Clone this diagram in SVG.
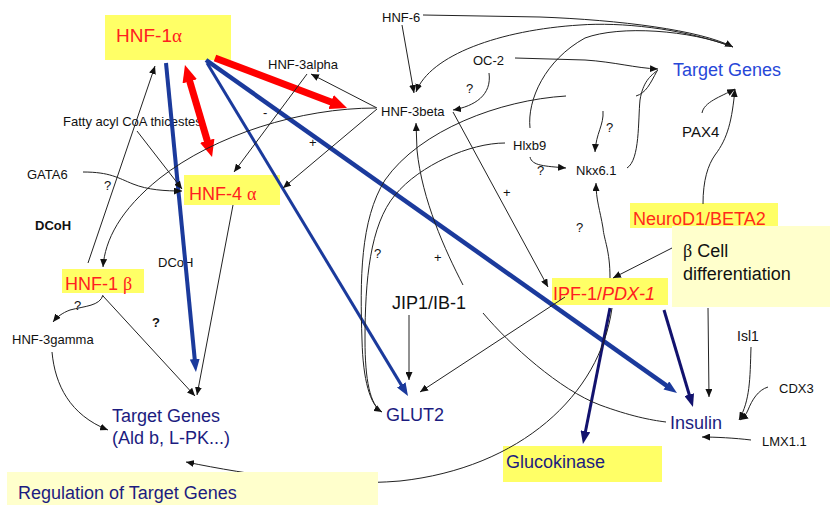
<svg xmlns="http://www.w3.org/2000/svg" width="830" height="505" viewBox="0 0 830 505">
<style>
text{font-family:"Liberation Sans",Arial,sans-serif;fill:#111}
.s{font-size:13px}
.b{font-size:18px}
.red{fill:#ff2020}
.navy{fill:#1c1c80}
.blu{fill:#2747d8}
.gr{font-family:"Liberation Serif","Times New Roman",serif}
.y{fill:#ffff66}
.ly{fill:#ffffcc}
.t{fill:none;stroke:#222;stroke-width:1}
.tb{fill:none;stroke:#1b3a9c;stroke-width:4}
.tn{fill:none;stroke:#12126e;stroke-width:3}
.tr{fill:none;stroke:#ff0000;stroke-width:7}
</style>
<defs>
<marker id="ah" markerUnits="userSpaceOnUse" markerWidth="9" markerHeight="7" refX="8" refY="3.5" orient="auto"><path d="M0,0 L8,3.5 L0,7z" fill="#111"/></marker>
<marker id="ahB" markerUnits="userSpaceOnUse" markerWidth="13" markerHeight="10" refX="2" refY="5" orient="auto"><path d="M0,0 L13,5 L0,10z" fill="#1b3a9c"/></marker>
<marker id="ahN" markerUnits="userSpaceOnUse" markerWidth="13" markerHeight="10" refX="2" refY="5" orient="auto"><path d="M0,0 L13,5 L0,10z" fill="#12126e"/></marker>
<marker id="ahR" markerUnits="userSpaceOnUse" markerWidth="17" markerHeight="15" refX="2" refY="7.5" orient="auto-start-reverse"><path d="M0,0 L17,7.5 L0,15z" fill="#ff0000"/></marker>
</defs>

<g id="hnf1a"><rect class="y" x="105" y="15" width="126" height="45"/><text class="b red" x="116" y="42" style="font-size:19px">HNF-1<tspan class="gr">α</tspan></text></g>
<g id="hnf4a"><rect class="y" x="184" y="175" width="96" height="30"/><text class="b red" x="189" y="200">HNF-4 <tspan class="gr">α</tspan></text></g>
<g id="hnf1b"><rect class="y" x="62" y="269" width="82" height="24"/><text class="b red" x="65" y="290">HNF-1 <tspan class="gr">β</tspan></text></g>
<g id="hnf3alpha"><text class="s" x="268" y="69">HNF-3alpha</text></g>
<g id="hnf3beta"><text class="s" x="381" y="116">HNF-3beta</text></g>
<g id="hnf6"><text class="s" x="382" y="22">HNF-6</text></g>
<g id="oc2"><text class="s" x="473" y="65">OC-2</text></g>
<g id="targetTop"><text class="b blu" x="673" y="76">Target Genes</text></g>
<g id="pax4"><text x="682" y="137" style="font-size:15px">PAX4</text></g>
<g id="hlxb9"><text class="s" x="513" y="150">Hlxb9</text></g>
<g id="nkx61"><text class="s" x="576" y="175">Nkx6.1</text></g>
<g id="fatty"><text class="s" x="63" y="126">Fatty acyl CoA thicestes</text></g>
<g id="gata6"><text class="s" x="27" y="179">GATA6</text></g>
<g id="dcoh1"><text class="s" x="35" y="230" font-weight="bold">DCoH</text></g>
<g id="dcoh2"><text class="s" x="158" y="267">DCoH</text></g>
<g id="hnf3gamma"><text class="s" x="12" y="344">HNF-3gamma</text></g>
<g id="targetLeft"><text class="b navy" x="112" y="422">Target Genes</text><text class="b navy" x="112" y="444">(Ald b, L-PK...)</text></g>
<g id="glut2"><text class="b navy" x="386" y="421">GLUT2</text></g>
<g id="jip1"><text class="b" x="392" y="309">JIP1/IB-1</text></g>
<g id="ipf1"><rect class="y" x="552" y="278" width="116" height="27"/><text class="b red" x="553" y="300">IPF-1/<tspan font-style="italic">PDX-1</tspan></text></g>
<g id="neurod1"><rect class="y" x="630" y="203" width="148" height="25"/><text class="b" x="633" y="225" style="fill:#ff2a1a">NeuroD1/BETA2</text></g>
<g id="isl1"><text x="737" y="341" style="font-size:14px">Isl1</text></g>
<g id="cdx3"><text class="s" x="779" y="393">CDX3</text></g>
<g id="lmx11"><text class="s" x="762" y="446">LMX1.1</text></g>
<g id="insulin"><text class="b navy" x="670" y="429">Insulin</text></g>
<g id="glucokinase"><rect class="y" x="503" y="446" width="159" height="36"/><text class="b navy" x="506" y="468">Glucokinase</text></g>

<g id="connectors">
<path class="tb" d="M166,63 L194.9,361" marker-end="url(#ahB)"/>
<path class="tb" style="stroke-width:3" d="M207,63 L402.3,386.6" marker-end="url(#ahB)"/>
<path class="tb" style="stroke-width:4.5" d="M206,60 L668,386.6" marker-end="url(#ahB)"/>
<path class="tn" d="M664,310 L689.8,396.5" marker-end="url(#ahN)"/>
<path class="tn" d="M610,308 L585.1,433.2" marker-end="url(#ahN)"/>
<path class="tr" d="M215,58 L333,102.7" marker-end="url(#ahR)"/>
<path class="tr" d="M189.2,79.4 L207.8,142.6" marker-start="url(#ahR)" marker-end="url(#ahR)"/>

<path class="t" d="M88,263 L155,66" marker-end="url(#ah)"/>
<path class="t" d="M137,131 L182,189" marker-end="url(#ah)"/>
<path class="t" d="M83,172 C110,172 118,178 133,184 C148,190 165,191 182,191" marker-end="url(#ah)"/>
<path class="t" d="M376,108 C300,108 215,135 160,178 C120,210 105,240 103,267" marker-end="url(#ah)"/>
<path class="t" d="M377,108 L311,74" marker-end="url(#ah)"/>
<path class="t" d="M377,109 L283,188" marker-end="url(#ah)"/>
<path class="t" d="M307,74 L234,172" marker-end="url(#ah)"/>
<path class="t" d="M233,205 L197,395" marker-end="url(#ah)"/>
<path class="t" d="M103,296 L195,396" marker-end="url(#ah)"/>
<path class="t" d="M103,295 C100,306 85,306 70,310 C62,313 57,317 53,322" marker-end="url(#ah)"/>
<path class="t" d="M52,352 C55,385 70,415 108,430" marker-end="url(#ah)"/>
<path class="t" d="M612,308 C600,395 520,468 400,481 C330,487 250,475 186,462" marker-end="url(#ah)"/>
<path class="t" d="M409,315 L409,380" marker-end="url(#ah)"/>
<path class="t" d="M565,297 L420,392" marker-end="url(#ah)"/>
<path class="t" d="M463,285 C445,250 422,200 417,150 L416,123" marker-end="url(#ah)"/>
<path class="t" d="M566,96 C500,100 420,130 385,180 C360,220 360,280 362,340 C363,380 370,405 382,412" marker-end="url(#ah)"/>
<path class="t" d="M505,143 C470,143 420,165 395,195 C370,225 365,280 365,340 C365,380 370,405 382,412"/>
<path class="t" d="M402,25 L414,93" marker-end="url(#ah)"/>
<path class="t" d="M423,15 L540,17 C620,20 700,30 733,47" marker-end="url(#ah)"/>
<path class="t" d="M730,46 C680,28 620,22 580,25 C500,30 430,55 416,92" marker-end="url(#ah)"/>
<path class="t" d="M530,128 C527,100 545,60 585,38 C620,25 690,30 733,47"/>
<path class="t" d="M515,58 L585,60 C615,62 635,68 658,69" marker-end="url(#ah)"/>
<path class="t" d="M489,73 C492,95 475,106 453,110" marker-end="url(#ah)"/>
<path class="t" d="M453,112 L548,287" marker-end="url(#ah)"/>
<path class="t" d="M603,111 C604,125 596,133 595,152" marker-end="url(#ah)"/>
<path class="t" d="M530,157 C532,166 545,166 566,168" marker-end="url(#ah)"/>
<path class="t" d="M627,168 C640,160 638,120 640,100 C643,82 650,76 658,70"/>
<path class="t" d="M636,96 C646,93 650,84 657,71"/>
<path class="t" d="M610,278 C610,250 604,240 603,228 C600,210 596,200 596,183" marker-end="url(#ah)"/>
<path class="t" d="M703,204 C703,180 708,165 715,155 C728,138 732,120 735,89" marker-end="url(#ah)"/>
<path class="t" d="M702,113 C704,102 720,97 735,89" marker-end="url(#ah)"/>
<path class="t" d="M672,248 L613,278" marker-end="url(#ah)"/>
<path class="t" d="M708,308 L709,397" marker-end="url(#ah)"/>
<path class="t" d="M751,347 C750,380 750,400 739,420" marker-end="url(#ah)"/>
<path class="t" d="M768,387 C758,390 752,400 748,410 C746,415 743,418 740,420" marker-end="url(#ah)"/>
<path class="t" d="M751,440 C735,438 715,437 702,437" marker-end="url(#ah)"/>
<path class="t" d="M483,313 C510,345 560,390 600,405 C630,416 650,420 666,422"/>
<text class="s" x="104" y="190">?</text>
<text class="s" x="74" y="310">?</text>
<text class="s" x="152" y="327" font-weight="bold">?</text>
<text class="s" x="263" y="117">-</text>
<text class="s" x="309" y="147">+</text>
<text class="s" x="466" y="93">?</text>
<text class="s" x="374" y="258">?</text>
<text class="s" x="434" y="262">+</text>
<text class="s" x="503" y="197">+</text>
<text class="s" x="537" y="175">?</text>
<text class="s" x="606" y="132">?</text>
<text class="s" x="576" y="232">?</text>
</g>

<g id="betacell"><rect class="ly" x="672" y="226" width="158" height="81"/><text class="b" x="683" y="257"><tspan class="gr">β</tspan> Cell</text><text class="b" x="683" y="280">differentiation</text></g>
<g id="regulation"><rect class="ly" x="7" y="472" width="371" height="33"/><text class="b navy" x="18" y="499">Regulation of Target Genes</text></g>
</svg>
